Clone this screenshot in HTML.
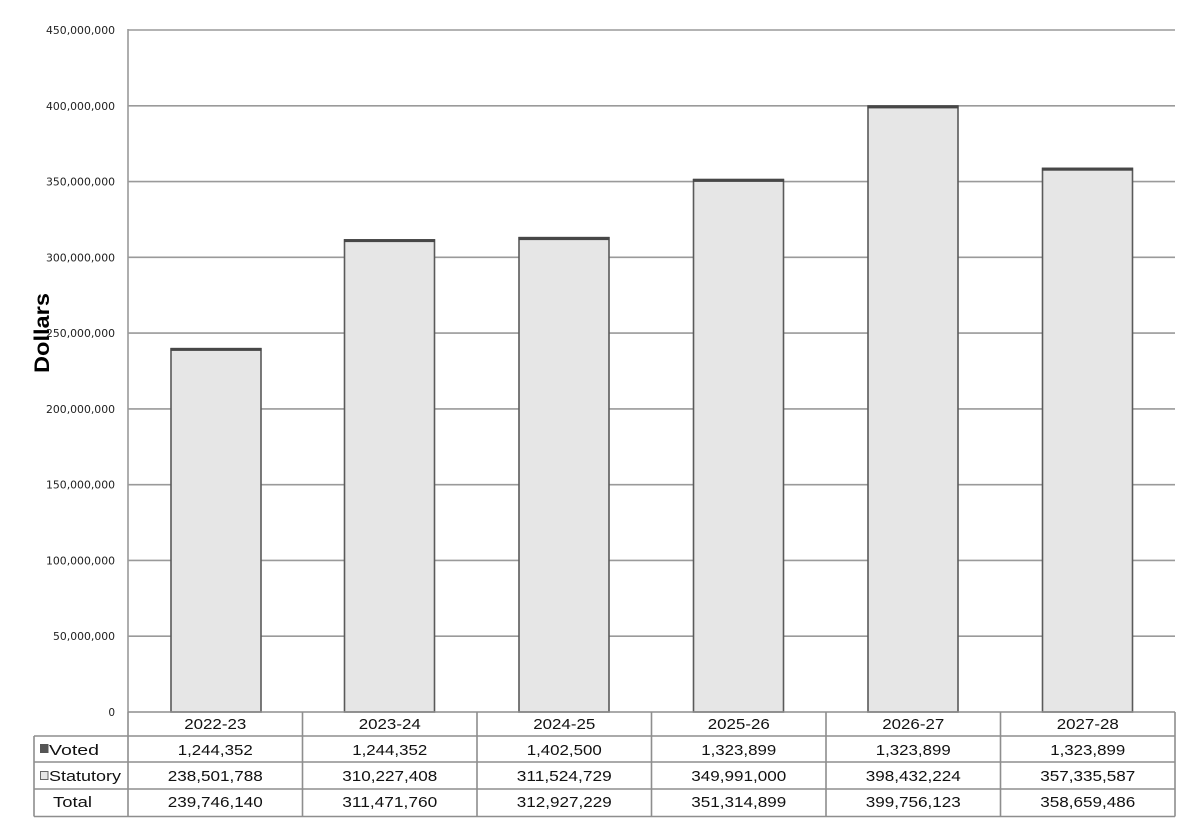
<!DOCTYPE html>
<html>
<head>
<meta charset="utf-8">
<style>
html,body{margin:0;padding:0;background:#fff;}
svg{display:block;}
.tick{font-family:"DejaVu Sans","Liberation Sans",sans-serif;font-size:10.5px;fill:#222;}
.cell{font-family:"Liberation Sans",Arial,sans-serif;font-size:15px;fill:#111;}
</style>
</head>
<body>
<svg width="1182" height="822" viewBox="0 0 1182 822" xmlns="http://www.w3.org/2000/svg">
<rect width="1182" height="822" fill="#fff"/>
<!-- gridlines -->
<g stroke="#9a9a9a" stroke-width="1.6">
<line x1="128" y1="30" x2="1175" y2="30"/>
<line x1="128" y1="105.8" x2="1175" y2="105.8"/>
<line x1="128" y1="181.6" x2="1175" y2="181.6"/>
<line x1="128" y1="257.3" x2="1175" y2="257.3"/>
<line x1="128" y1="333.1" x2="1175" y2="333.1"/>
<line x1="128" y1="408.9" x2="1175" y2="408.9"/>
<line x1="128" y1="484.7" x2="1175" y2="484.7"/>
<line x1="128" y1="560.4" x2="1175" y2="560.4"/>
<line x1="128" y1="636.2" x2="1175" y2="636.2"/>
<line x1="128" y1="29" x2="128" y2="712"/>
</g>
<!-- tick labels -->
<g class="tick" text-anchor="end">
<text x="115" y="34" textLength="69" lengthAdjust="spacingAndGlyphs">450,000,000</text>
<text x="115" y="110" textLength="69" lengthAdjust="spacingAndGlyphs">400,000,000</text>
<text x="115" y="185.5" textLength="69" lengthAdjust="spacingAndGlyphs">350,000,000</text>
<text x="115" y="261.3" textLength="69" lengthAdjust="spacingAndGlyphs">300,000,000</text>
<text x="115" y="337" textLength="69" lengthAdjust="spacingAndGlyphs">250,000,000</text>
<text x="115" y="413" textLength="69" lengthAdjust="spacingAndGlyphs">200,000,000</text>
<text x="115" y="488.7" textLength="69" lengthAdjust="spacingAndGlyphs">150,000,000</text>
<text x="115" y="564.4" textLength="69" lengthAdjust="spacingAndGlyphs">100,000,000</text>
<text x="115" y="640.2" textLength="62" lengthAdjust="spacingAndGlyphs">50,000,000</text>
<text x="115" y="716">0</text>
</g>
<!-- y axis title -->
<text transform="translate(49,333) rotate(-90)" text-anchor="middle" font-family="Liberation Sans, Arial, sans-serif" font-weight="bold" font-size="21" fill="#000" textLength="80" lengthAdjust="spacingAndGlyphs">Dollars</text>
<!-- bars -->
<g stroke="#5a5a5a" stroke-width="1.6" fill="#e6e6e6">
<rect x="171" y="348.7" width="90" height="363.3"/>
<rect x="344.5" y="239.9" width="90" height="472.1"/>
<rect x="519" y="237.7" width="90" height="474.3"/>
<rect x="693.5" y="179.6" width="90" height="532.4"/>
<rect x="868" y="106.1" width="90" height="605.9"/>
<rect x="1042.5" y="168.4" width="90" height="543.6"/>
</g>
<g fill="#474747">
<rect x="170.5" y="347.9" width="91" height="3"/>
<rect x="344" y="239.1" width="91" height="3"/>
<rect x="518.5" y="236.9" width="91" height="3.2"/>
<rect x="693" y="178.8" width="91" height="3.1"/>
<rect x="867.5" y="105.3" width="91" height="3.1"/>
<rect x="1042" y="167.6" width="91" height="3.1"/>
</g>
<!-- table -->
<g stroke="#8e8e8e" stroke-width="1.6" fill="none">
<line x1="128" y1="712" x2="1175" y2="712"/>
<line x1="34" y1="736" x2="1175" y2="736"/>
<line x1="34" y1="762" x2="1175" y2="762"/>
<line x1="34" y1="789" x2="1175" y2="789"/>
<line x1="34" y1="816.5" x2="1175" y2="816.5"/>
<line x1="34" y1="736" x2="34" y2="816.5"/>
<line x1="128" y1="712" x2="128" y2="816.5"/>
<line x1="302.5" y1="712" x2="302.5" y2="816.5"/>
<line x1="477" y1="712" x2="477" y2="816.5"/>
<line x1="651.5" y1="712" x2="651.5" y2="816.5"/>
<line x1="826" y1="712" x2="826" y2="816.5"/>
<line x1="1000.5" y1="712" x2="1000.5" y2="816.5"/>
<line x1="1175" y1="712" x2="1175" y2="816.5"/>
</g>
<!-- legend squares -->
<rect x="40.5" y="744.5" width="7.5" height="8" fill="#555" stroke="#555" stroke-width="1"/>
<rect x="40.5" y="771.5" width="7.5" height="8" fill="#e6e6e6" stroke="#666" stroke-width="1"/>
<g class="cell">
<text x="49" y="755" textLength="50" lengthAdjust="spacingAndGlyphs">Voted</text>
<text x="49" y="781" textLength="72" lengthAdjust="spacingAndGlyphs">Statutory</text>
<text x="53" y="807" textLength="39" lengthAdjust="spacingAndGlyphs">Total</text>
</g>
<g class="cell" text-anchor="middle">
<text x="215.25" y="729" textLength="62" lengthAdjust="spacingAndGlyphs">2022-23</text>
<text x="389.75" y="729" textLength="62" lengthAdjust="spacingAndGlyphs">2023-24</text>
<text x="564.25" y="729" textLength="62" lengthAdjust="spacingAndGlyphs">2024-25</text>
<text x="738.75" y="729" textLength="62" lengthAdjust="spacingAndGlyphs">2025-26</text>
<text x="913.25" y="729" textLength="62" lengthAdjust="spacingAndGlyphs">2026-27</text>
<text x="1087.75" y="729" textLength="62" lengthAdjust="spacingAndGlyphs">2027-28</text>

<text x="215.25" y="755" textLength="75" lengthAdjust="spacingAndGlyphs">1,244,352</text>
<text x="389.75" y="755" textLength="75" lengthAdjust="spacingAndGlyphs">1,244,352</text>
<text x="564.25" y="755" textLength="75" lengthAdjust="spacingAndGlyphs">1,402,500</text>
<text x="738.75" y="755" textLength="75" lengthAdjust="spacingAndGlyphs">1,323,899</text>
<text x="913.25" y="755" textLength="75" lengthAdjust="spacingAndGlyphs">1,323,899</text>
<text x="1087.75" y="755" textLength="75" lengthAdjust="spacingAndGlyphs">1,323,899</text>

<text x="215.25" y="781" textLength="95" lengthAdjust="spacingAndGlyphs">238,501,788</text>
<text x="389.75" y="781" textLength="95" lengthAdjust="spacingAndGlyphs">310,227,408</text>
<text x="564.25" y="781" textLength="95" lengthAdjust="spacingAndGlyphs">311,524,729</text>
<text x="738.75" y="781" textLength="95" lengthAdjust="spacingAndGlyphs">349,991,000</text>
<text x="913.25" y="781" textLength="95" lengthAdjust="spacingAndGlyphs">398,432,224</text>
<text x="1087.75" y="781" textLength="95" lengthAdjust="spacingAndGlyphs">357,335,587</text>

<text x="215.25" y="807" textLength="95" lengthAdjust="spacingAndGlyphs">239,746,140</text>
<text x="389.75" y="807" textLength="95" lengthAdjust="spacingAndGlyphs">311,471,760</text>
<text x="564.25" y="807" textLength="95" lengthAdjust="spacingAndGlyphs">312,927,229</text>
<text x="738.75" y="807" textLength="95" lengthAdjust="spacingAndGlyphs">351,314,899</text>
<text x="913.25" y="807" textLength="95" lengthAdjust="spacingAndGlyphs">399,756,123</text>
<text x="1087.75" y="807" textLength="95" lengthAdjust="spacingAndGlyphs">358,659,486</text>
</g>
</svg>
</body>
</html>
